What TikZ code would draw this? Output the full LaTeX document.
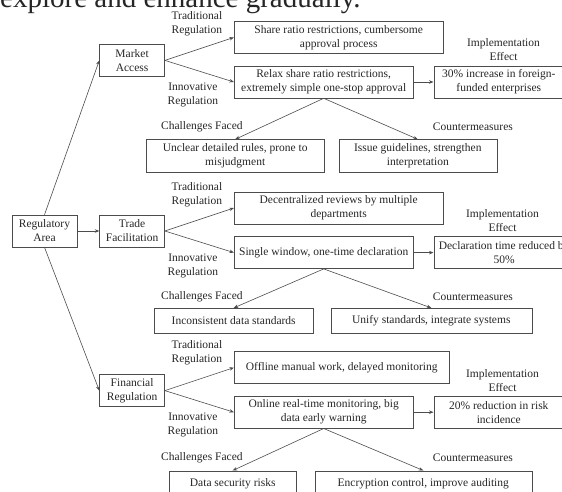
\documentclass[tikz,border=0pt]{standalone}
\usepackage{fontspec}
\setmainfont{Liberation Serif}
\usetikzlibrary{arrows.meta, calc, positioning}

\begin{document}
\begin{tikzpicture}[
    x=1pt, y=-1pt,
    >={Stealth[length=4.5pt, width=3.5pt]},
    every node/.style={font=\fontsize{11.5}{14}\selectfont, text=black!85},
    area/.style ={draw=black!70, line width=0.6pt, align=center,
                  minimum width=65pt, minimum height=32pt, inner sep=2pt},
    rule/.style ={draw=black!70, line width=0.6pt, align=center,
                  minimum height=32pt, inner sep=3pt},
    issue/.style={rule, minimum height=25pt},
    tag/.style  ={align=center, inner sep=1pt},
    link/.style ={->, draw=black!70, line width=0.6pt},
]
\useasboundingbox (0,0) rectangle (562,491);
% text of the page above, cut by the picture's edge
\node[font=\fontsize{29}{34}\selectfont, anchor=base west, inner sep=0pt] (pagetext) at (0,7) {explore and enhance gradually.};

\node[area] (reg) at (44.5,231) {Regulatory\\ Area};
\node[area, right=22pt of reg]    (trade)   {Trade\\ Facilitation};
\node[area, above=138pt of trade] (market)  {Market\\ Access};
\node[area, below=127pt of trade] (finance) {Financial\\ Regulation};

% market access
\node[rule, minimum width=209pt, right=69pt of market, yshift=23pt] (old1) {Share ratio restrictions, cumbersome\\ approval process};
\node[rule, minimum width=179pt, below=12pt of old1.south west, anchor=north west] (new1) {Relax share ratio restrictions,\\ extremely simple one-stop approval};
\node[rule, minimum width=130pt, right=20pt of new1] (gain1) {30\% increase in foreign-\\ funded enterprises};
\node[issue, minimum width=178pt, minimum height=33pt, below=41pt of new1, xshift=-88.5pt] (risk1) {Unclear detailed rules, prone to\\ misjudgment};
\node[issue, minimum width=158pt, minimum height=33pt, right=14pt of risk1] (fix1) {Issue guidelines, strengthen\\ interpretation};
\node[tag] (old1tag)  at ($(market.east)+(32,-36.5)$) {Traditional\\ Regulation};
\node[tag] (new1tag)  at ($(market.east)+(28,34.5)$)  {Innovative\\ Regulation};
\node[tag] (gain1tag) at ($(gain1.north west)+(70,-16)$) {Implementation\\ Effect};
\node[tag] (risk1tag) at ($(market.east |- risk1.north)+(37,-13)$)  {Challenges Faced};
\node[tag] (fix1tag)  at ($(market.east |- risk1.north)+(308,-13)$) {Countermeasures};

% trade facilitation
\node[rule, minimum width=209pt, right=69pt of trade, yshift=23pt] (old2) {Decentralized reviews by multiple\\ departments};
\node[rule, minimum width=179pt, below=12pt of old2.south west, anchor=north west] (new2) {Single window, one-time declaration};
\node[rule, inner sep=5pt, right=20pt of new2] (gain2) {Declaration time reduced by\\ 50\%};
\node[issue, minimum width=159pt, below=39pt of new2, xshift=-90pt] (risk2) {Inconsistent data standards};
\node[issue, minimum width=201pt, right=17pt of risk2] (fix2) {Unify standards, integrate systems};
\node[tag] (old2tag)  at ($(trade.east)+(32,-36)$) {Traditional\\ Regulation};
\node[tag] (new2tag)  at ($(trade.east)+(28,35)$)  {Innovative\\ Regulation};
\node[tag] (gain2tag) at ($(gain2.north west)+(69,-16)$) {Implementation\\ Effect};
\node[tag] (risk2tag) at ($(trade.east |- risk2.north)+(37,-11)$)  {Challenges Faced};
\node[tag] (fix2tag)  at ($(trade.east |- risk2.north)+(308,-11)$) {Countermeasures};

% financial regulation
\node[rule, minimum width=215pt, right=69pt of finance, yshift=23pt] (old3) {Offline manual work, delayed monitoring};
\node[rule, minimum width=179pt, below=12pt of old3.south west, anchor=north west] (new3) {Online real-time monitoring, big\\ data early warning};
\node[rule, minimum width=130pt, right=20pt of new3] (gain3) {20\% reduction in risk\\ incidence};
\node[issue, minimum width=127pt, below=42pt of new3, xshift=-91pt] (risk3) {Data security risks};
\node[issue, minimum width=217pt, right=18pt of risk3] (fix3) {Encryption control, improve auditing};
\node[tag] (old3tag)  at ($(finance.east)+(32,-37.5)$) {Traditional\\ Regulation};
\node[tag] (new3tag)  at ($(finance.east)+(28,34.5)$)  {Innovative\\ Regulation};
\node[tag] (gain3tag) at ($(gain3.north west)+(69,-15)$) {Implementation\\ Effect};
\node[tag] (risk3tag) at ($(finance.east |- risk3.north)+(37,-13)$)  {Challenges Faced};
\node[tag] (fix3tag)  at ($(finance.east |- risk3.north)+(308,-13)$) {Countermeasures};

\draw[link] (reg) -- (trade);
\draw[link] (reg.north) -- (market.west);
\draw[link] (reg.south) -- (finance.west);
% one branch per area
\draw[link] (market.east) -- (old1.west);
\draw[link] (market.east) -- (new1.west);
\draw[link] (new1) -- (gain1);
\draw[link] (new1.south) -- (risk1.north);
\draw[link] (new1.south) -- (fix1.north);
\draw[link] (trade.east) -- (old2.west);
\draw[link] (trade.east) -- (new2.west);
\draw[link] (new2) -- (gain2);
\draw[link] (new2.south) -- (risk2.north);
\draw[link] (new2.south) -- (fix2.north);
\draw[link] (finance.east) -- (old3.west);
\draw[link] (finance.east) -- (new3.west);
\draw[link] (new3) -- (gain3);
\draw[link] (new3.south) -- (risk3.north);
\draw[link] (new3.south) -- (fix3.north);
\end{tikzpicture}
\end{document}
